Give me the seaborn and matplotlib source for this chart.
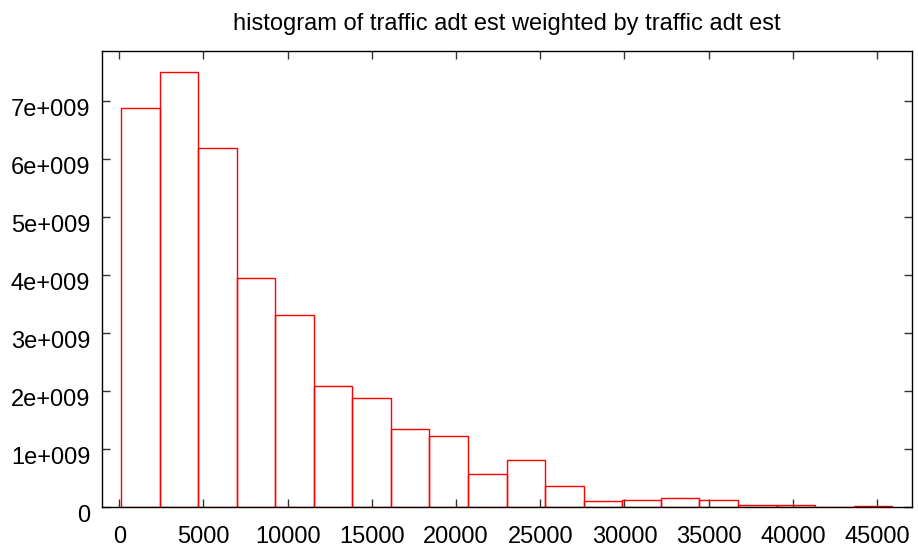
import numpy as np
import pandas as pd
import seaborn as sns
import matplotlib
matplotlib.use("Agg")
import matplotlib.pyplot as plt
import matplotlib.transforms as mtransforms
from matplotlib.ticker import FuncFormatter

# Histogram bins (traffic adt est) and weighted counts
bin_edges = [100, 2390, 4680, 6970, 9260, 11550, 13840, 16130, 18420, 20710, 23000,
             25290, 27580, 29870, 32160, 34450, 36740, 39030, 41320, 43610, 45900]
bin_weights = [6.874e9, 7.49e9, 6.19e9, 3.948e9, 3.31e9, 2.076e9, 1.869e9, 1.334e9,
               1.224e9, 0.558e9, 0.81e9, 0.357e9, 0.098e9, 0.121e9, 0.148e9, 0.12e9,
               0.035e9, 0.024e9, 0.003e9, 0.012e9]
x_ticks = [0, 5000, 10000, 15000, 20000, 25000, 30000, 35000, 40000, 45000]
y_ticks = [0, 1e9, 2e9, 3e9, 4e9, 5e9, 6e9, 7e9]
title = "histogram of traffic adt est weighted by traffic adt est"

sns.set_theme(style="white")
plt.rcParams['font.family'] = ['Liberation Sans', 'DejaVu Sans']

centers = [(bin_edges[i] + bin_edges[i + 1]) / 2 for i in range(len(bin_weights))]
df = pd.DataFrame({"adt": centers, "w": bin_weights})

fig = plt.figure(figsize=(9.18, 5.51), dpi=100)
ax = fig.add_axes([102 / 918, 1 - 506.7 / 551, (911.7 - 102) / 918, (506.7 - 50.7) / 551])

sns.histplot(data=df, x="adt", weights="w", bins=bin_edges, fill=False,
             element="bars", color="red", linewidth=1.0, ax=ax)

ax.set_xlim(-1027, 47055)
ax.set_ylim(0, 7.862e9)
ax.set_xticks(x_ticks)
ax.set_yticks(y_ticks)
ax.set_xticklabels([str(v) for v in x_ticks])
ax.yaxis.set_major_formatter(FuncFormatter(lambda v, p: "0" if v == 0 else "%de+009" % round(v / 1e9)))
ax.set_xlabel("")
ax.set_ylabel("")
ax.set_title(title, fontsize=17, pad=15, color="black")

for s in ax.spines.values():
    s.set_visible(True)
    s.set_color("black")
    s.set_linewidth(1.0)

ax.tick_params(axis="both", which="major", direction="in", length=6, width=1,
               color="#333333", labelsize=17, labelcolor="black",
               top=True, right=True, bottom=True, left=True)
ax.tick_params(axis="x", pad=14)
ax.tick_params(axis="y", pad=8.5)

offset = mtransforms.ScaledTranslation(0, -6.5 / 100, fig.dpi_scale_trans)
for lab in ax.get_yticklabels():
    lab.set_transform(lab.get_transform() + offset)

fig.savefig("out.png", dpi=100, facecolor="white")
